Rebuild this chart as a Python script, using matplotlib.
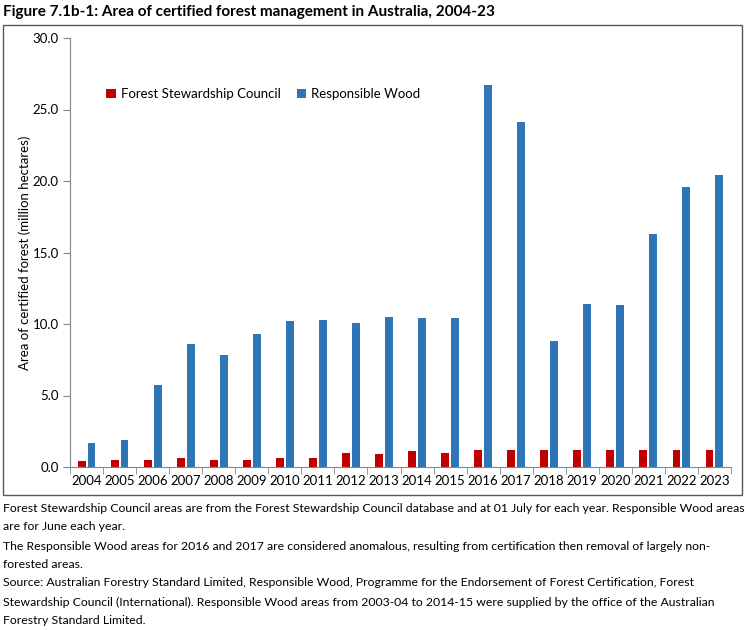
import numpy as np
import matplotlib.pyplot as plt
from matplotlib.patches import Rectangle

plt.rcParams['font.family'] = ['Lato', 'DejaVu Sans']

years = [str(y) for y in range(2004, 2024)]
fsc = [0.4, 0.5, 0.5, 0.6, 0.5, 0.5, 0.6, 0.6, 1.0, 0.9,
       1.1, 1.0, 1.2, 1.2, 1.2, 1.2, 1.2, 1.2, 1.2, 1.2]
rw = [1.7, 1.9, 5.7, 8.6, 7.8, 9.3, 10.2, 10.3, 10.1, 10.5,
      10.4, 10.4, 26.7, 24.1, 8.8, 11.4, 11.3, 16.3, 19.6, 20.4]

W, H = 746, 630
fig = plt.figure(figsize=(W / 100, H / 100), dpi=100)
ax = fig.add_axes([70 / W, (H - 467) / H, (731 - 70) / W, (467 - 38) / H])

x = np.arange(len(years))
ax.bar(x - 0.15, fsc, width=0.24, color='#C00000', label='Forest Stewardship Council')
ax.bar(x + 0.15, rw, width=0.24, color='#2E75B6', label='Responsible Wood')

ax.set_xlim(-0.5, len(years) - 0.5)
ax.set_ylim(0, 30)
ax.set_yticks(np.arange(0, 30.1, 5))
ax.set_yticklabels([f"{v:.1f}" for v in np.arange(0, 30.1, 5)])
ax.set_xticks(x)
ax.set_xticklabels(years)
ax.set_xticks(np.arange(-0.5, len(years)), minor=True)
ax.tick_params(axis='x', which='major', length=0, labelsize=9.5, pad=6)
ax.tick_params(axis='x', which='minor', length=5, color='#868686')
ax.tick_params(axis='y', length=5, color='#868686', labelsize=9.5, pad=3)
for s in ['top', 'right']:
    ax.spines[s].set_visible(False)
for s in ['left', 'bottom']:
    ax.spines[s].set_color('#868686')
ax.set_ylabel("Area of certified forest (million hectares)", fontsize=9.5, labelpad=1)

ax.legend(loc='upper left', bbox_to_anchor=(0.037, 0.91), ncol=2, frameon=False,
          fontsize=9.5, handlelength=0.7, handleheight=0.7, handletextpad=0.4,
          columnspacing=1.2)

fig.patches.append(Rectangle((3 / W, (H - 495) / H), 739 / W, 470 / H,
                             transform=fig.transFigure, fill=False,
                             edgecolor='#595959', linewidth=1))

fig.text(3 / W, 1 - 12 / H, "Figure 7.1b-1: Area of certified forest management in Australia, 2004-23",
         fontsize=11, fontweight='bold', va='center', ha='left')

notes = [
    "Forest Stewardship Council areas are from the Forest Stewardship Council database and at 01 July for each year. Responsible Wood areas",
    "are for June each year.",
    "The Responsible Wood areas for 2016 and 2017 are considered anomalous, resulting from certification then removal of largely non-",
    "forested areas.",
    "Source: Australian Forestry Standard Limited, Responsible Wood, Programme for the Endorsement of Forest Certification, Forest",
    "Stewardship Council (International). Responsible Wood areas from 2003-04 to 2014-15 were supplied by the office of the Australian",
    "Forestry Standard Limited.",
]
note_y = [508, 526, 546, 564, 583, 602, 620]
for t, yy in zip(notes, note_y):
    fig.text(3 / W, 1 - yy / H, t, fontsize=8.8, va='center', ha='left')

fig.savefig("out.png", dpi=100)
